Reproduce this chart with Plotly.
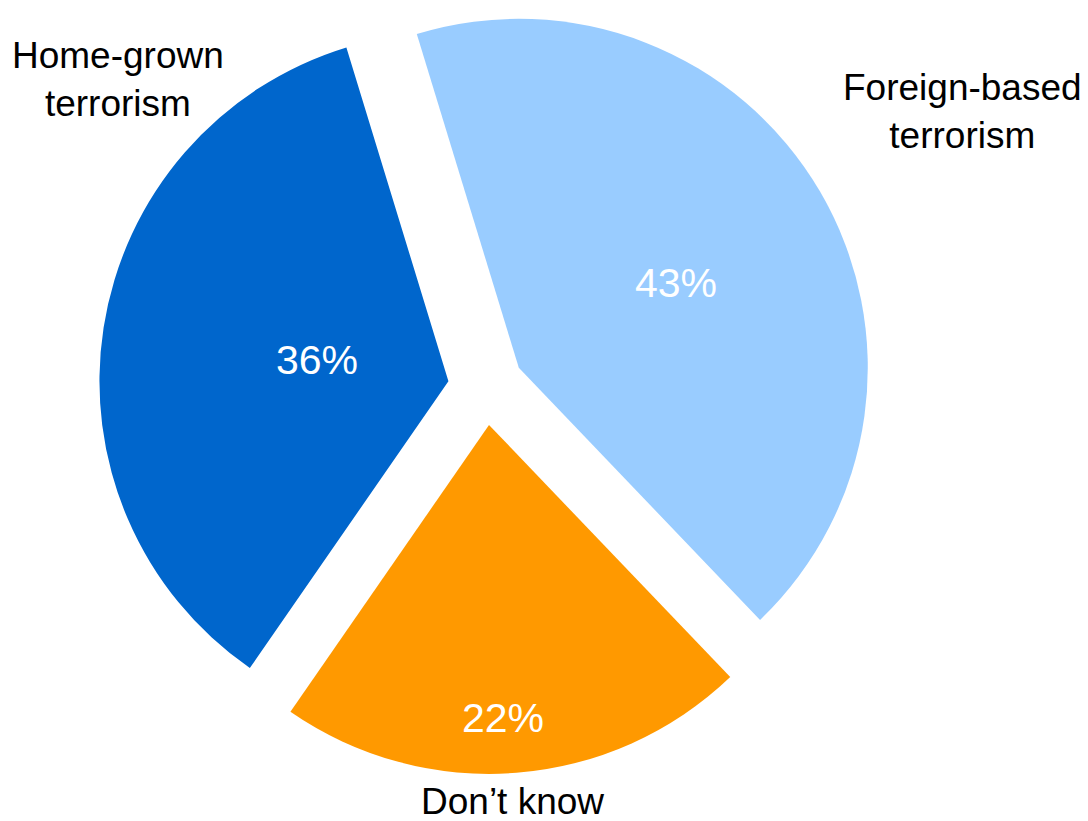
import plotly.graph_objects as go

categories = ["Foreign-based terrorism", "Don’t know", "Home-grown terrorism"]
values = [43, 22, 36]
colors = ["#99CCFF", "#FF9900", "#0066CC"]
label_text = ["Foreign-based<br>terrorism", "Don’t know", "Home-grown<br>terrorism"]
label_px = [(962, 111), (512, 801), (118, 80)]
pct_px = [(676, 283), (503, 718), (317, 360)]

W, H = 1088, 821
FONT = "Arial, Liberation Sans, sans-serif"

fig = go.Figure(go.Pie(
    labels=categories,
    values=values,
    sort=False,
    direction="clockwise",
    rotation=-17,
    pull=[0.109, 0.109, 0.109],
    marker=dict(colors=colors, line=dict(width=0)),
    textinfo="none",
    domain=dict(x=[99 / W, 873 / W], y=[(H - 774) / H, 1.0]),
    showlegend=False,
    hoverinfo="label+value",
))

for txt, (x, y) in zip(label_text, label_px):
    fig.add_annotation(x=x / W, y=1 - y / H, xref="paper", yref="paper", text=txt,
                       showarrow=False, xanchor="center", yanchor="middle",
                       font=dict(family=FONT, size=37, color="black"))

for v, (x, y) in zip(values, pct_px):
    fig.add_annotation(x=x / W, y=1 - y / H, xref="paper", yref="paper", text=f"{v}%",
                       showarrow=False, xanchor="center", yanchor="middle",
                       font=dict(family=FONT, size=41, color="white"))

fig.update_layout(width=W, height=H, margin=dict(l=0, r=0, t=0, b=0),
                  paper_bgcolor="white", plot_bgcolor="white")
fig.write_html("out.html", config={"displayModeBar": False},
               post_script="document.body.style.margin='0px';")
